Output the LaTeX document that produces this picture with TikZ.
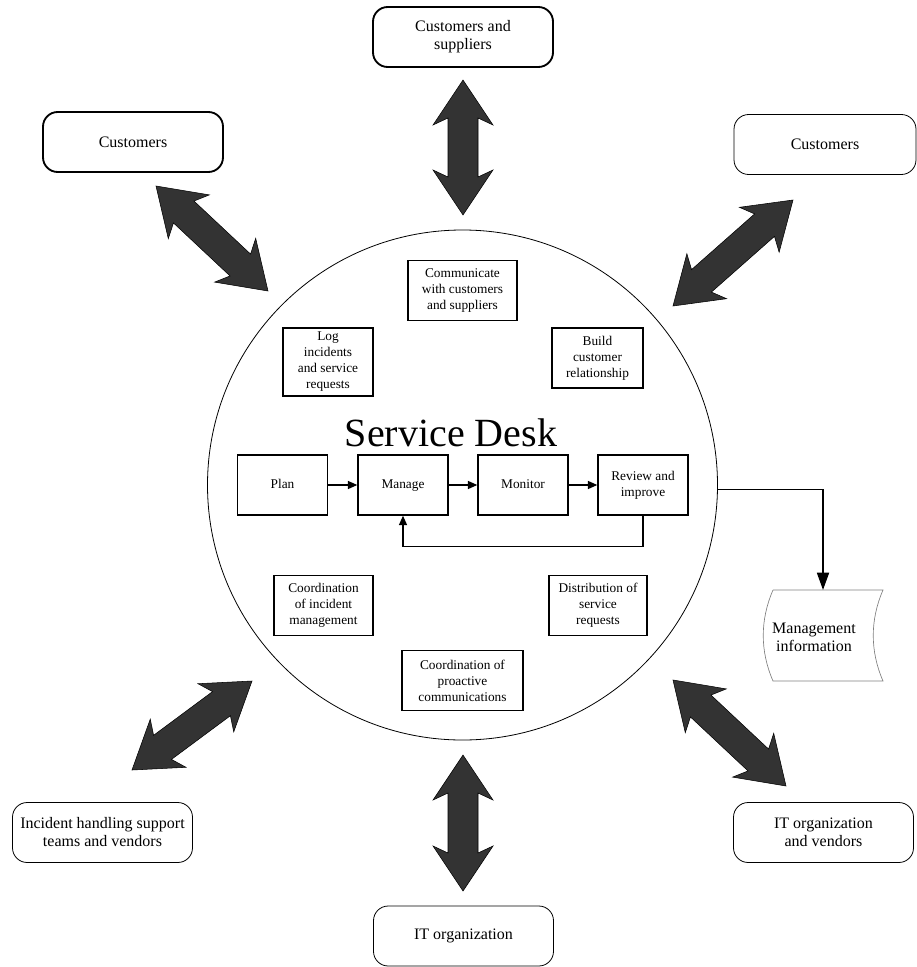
\documentclass[tikz,border=0pt]{standalone}
\usepackage{fontspec}
\setmainfont{Liberation Serif}
\usetikzlibrary{calc,arrows.meta}

\definecolor{arrowgray}{HTML}{333333}

\newcommand{\fatarrow}[2]{%
  \coordinate (fa) at ($(#1)!33.75pt!(#2)$);
  \coordinate (fb) at ($(#2)!33.75pt!(#1)$);
  \coordinate (ja) at ($(#1)!28.5pt!(#2)$);
  \coordinate (jb) at ($(#2)!28.5pt!(#1)$);
  \draw[fatarrow] (#1) -- ($(fa)!22.5pt!90:(#2)$) -- ($(ja)!11.25pt!90:(#2)$)
    -- ($(jb)!11.25pt!-90:(#1)$) -- ($(fb)!22.5pt!-90:(#1)$) -- (#2)
    -- ($(fb)!22.5pt!90:(#1)$) -- ($(jb)!11.25pt!90:(#1)$)
    -- ($(ja)!11.25pt!-90:(#2)$) -- ($(fa)!22.5pt!-90:(#2)$) -- cycle;
}

\begin{document}
\begin{tikzpicture}[
	x=0.75pt, y=-0.75pt,
	outbox/.style={ rounded corners=11pt, draw, line width=0.6pt, minimum width=135pt, minimum height=45pt, align=center, font=\fontsize{12}{13.5}\selectfont },
	outboxb/.style={ outbox, line width=1.4pt },
	inbox/.style={ draw, line width=1.1pt, minimum height=45pt, align=center, inner sep=2pt, font=\fontsize{10}{12}\selectfont },
	stepbox/.style={ inbox, minimum width=67.5pt },
	oneline/.style={ text height=1.6ex, text depth=0.4ex },
	flow/.style={ line width=1pt, -{Triangle[length=7pt,width=6pt]} },
	fatarrow/.style={ fill=arrowgray, draw=black, line width=0.4pt, line join=miter }
]
\useasboundingbox (0,0) rectangle (917,967);

\node at (462.5,485) (desk) [circle, draw, line width=0.6pt, minimum size=382.5pt, inner sep=0pt] {};
\node at (451,433) (title) [font=\fontsize{30}{30}\selectfont] {Service Desk};

% outer parties
\node at (463,37) (custsup) [outboxb] {Customers and\\suppliers};
\node at (133,142) (custl) [outboxb] {Customers};
\node at (825,144.5) (custr) [outbox, minimum width=136.5pt] {Customers};
\node at (102.5,832.5) (teams) [outbox] {Incident handling support\\teams and vendors};
\node at (463.5,936) (itorg) [outbox] {IT organization};
\node at (823.5,832.5) (itvend) [outbox] {IT organization\\and vendors};

% activities in the desk
\node at (462.5,290.5) (comm) [inbox, minimum width=81.75pt] {Communicate\\with customers\\and suppliers};
\node at (328,362) (logi) [inbox, minimum width=67.5pt, minimum height=51pt] {Log\\incidents\\and service\\requests};
\node at (597.5,358) (build) [inbox, minimum width=68.25pt] {Build\\customer\\relationship};
\node at (323.5,605.5) (coinc) [inbox, minimum width=74.25pt] {Coordination\\of incident\\management};
\node at (598,605.5) (distr) [inbox, minimum width=73.5pt] {Distribution of\\service\\requests};
\node at (462.5,680.5) (copro) [inbox, minimum width=90.75pt] {Coordination of\\proactive\\communications};

\node at (282.5,485) (plan) [stepbox, oneline] {Plan};
\node at (403,485) (manage) [stepbox, oneline] {Manage};
\node at (523,485) (monitor) [stepbox, oneline] {Monitor};
\node at (643,485) (review) [stepbox] {Review and\\improve};
\foreach \a/\b in {plan/manage, manage/monitor, monitor/review} \draw[flow] (\a) to (\b);
\draw[flow] (review.south) -- ++(0,31) -| (manage.south);

% management information
\draw[gray, line width=0.5pt] (773,590) -- (883,590) .. controls (870,620) and (870,651) .. (883,681)
  -- (773,681) .. controls (760,651) and (760,620) .. (773,590);
\node at (814,637) (mgmt) [align=center, font=\fontsize{12}{13.5}\selectfont] {Management\\information};
\coordinate (mtop) at (823,590);
\draw[line width=1.3pt, -{Triangle[length=13pt,width=9pt]}] (desk.-1.8) -| (mtop);

% exchange arrows
\coordinate (a1) at (463,80);  \coordinate (b1) at (463,215);
\coordinate (a2) at (463,755); \coordinate (b2) at (463,891);
\coordinate (a3) at (156,186); \coordinate (b3) at (268,291);
\coordinate (a4) at (793,200); \coordinate (b4) at (673,306);
\coordinate (a5) at (252,681); \coordinate (b5) at (132,770);
\coordinate (a6) at (673,680); \coordinate (b6) at (786,786);
\foreach \i in {1,...,6} \fatarrow{a\i}{b\i};

\end{tikzpicture}
\end{document}
